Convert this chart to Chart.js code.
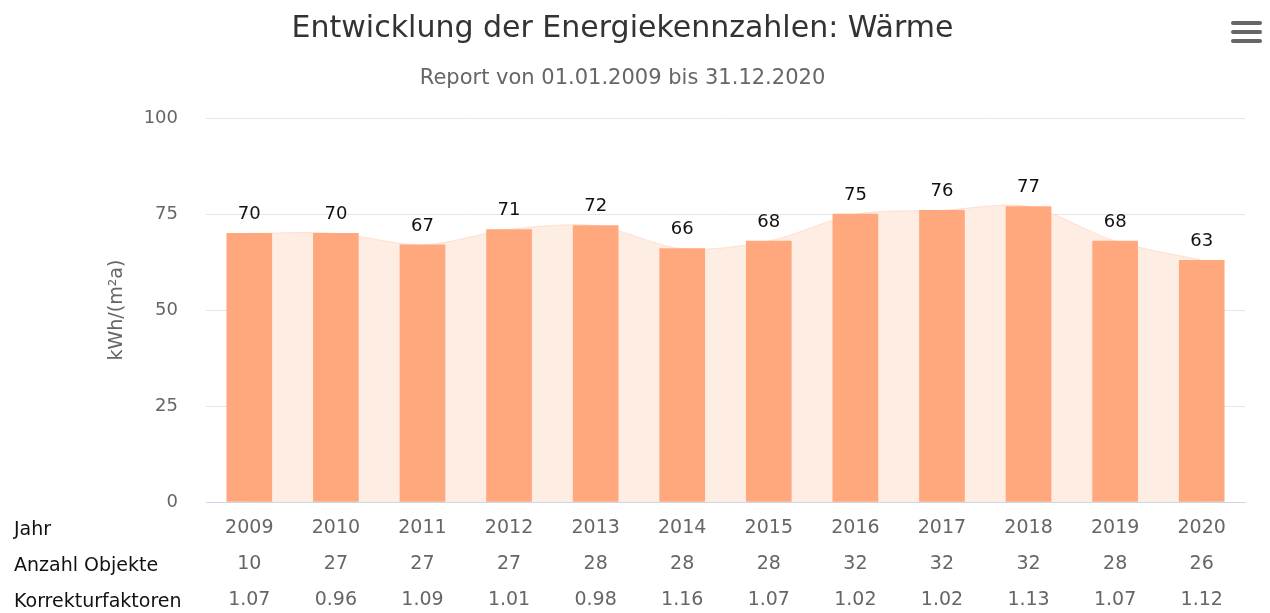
<!DOCTYPE html>
<html>
<head>
<meta charset="utf-8">
<script src="https://cdn.jsdelivr.net/npm/chart.js@4/dist/chart.umd.min.js"></script>
<style>
  html, body { margin: 0; padding: 0; background: #fff; }
  #wrap { width: 1270px; height: 613px; }
</style>
</head>
<body>
<div id="wrap"><canvas id="myChart" width="1270" height="613"></canvas></div>
<script>
var years = ['2009', '2010', '2011', '2012', '2013', '2014', '2015', '2016', '2017', '2018', '2019', '2020'];
var objekte = ['10', '27', '27', '27', '28', '28', '28', '32', '32', '32', '28', '26'];
var faktoren = ['1.07', '0.96', '1.09', '1.01', '0.98', '1.16', '1.07', '1.02', '1.02', '1.13', '1.07', '1.12'];
var werte = [70, 70, 67, 71, 72, 66, 68, 75, 76, 77, 68, 63];
var rowNames = ['Jahr', 'Anzahl Objekte', 'Korrekturfaktoren'];

var FONT = "'DejaVu Sans', sans-serif";
var LINE_H = 36;

var labels = years.map(function (y, i) { return [y, objekte[i], faktoren[i]]; });

var extras = {
    id: 'extras',
    afterDatasetsDraw: function (chart) {
        var c = chart.ctx;
        var meta = chart.getDatasetMeta(1);
        c.save();
        c.font = '18px ' + FONT;
        c.fillStyle = '#111';
        c.textAlign = 'center';
        c.textBaseline = 'middle';
        meta.data.forEach(function (bar, i) {
            c.fillText(String(werte[i]), bar.x, bar.y - 19);
        });
        c.restore();
    },
    afterDraw: function (chart) {
        var c = chart.ctx;
        var xs = chart.scales.x;
        var area = chart.chartArea;
        c.save();
        // row names on the left
        c.font = '19px ' + FONT;
        c.fillStyle = '#111';
        c.textAlign = 'left';
        c.textBaseline = 'middle';
        rowNames.forEach(function (n, i) {
            c.fillText(n, 14, xs.top + 28 + LINE_H * i);
        });
        // y axis title
        c.translate(117, (area.top + area.bottom) / 2);
        c.rotate(-Math.PI / 2);
        c.textAlign = 'center';
        c.fillStyle = '#666';
        c.font = '19px ' + FONT;
        c.fillText('kWh/(m²a)', 0, 0);
        c.restore();
        // menu icon
        c.save();
        c.strokeStyle = '#666';
        c.lineWidth = 4;
        c.lineCap = 'round';
        [23, 32, 41].forEach(function (y) {
            c.beginPath();
            c.moveTo(1233, y);
            c.lineTo(1260, y);
            c.stroke();
        });
        c.restore();
    }
};

var ctx = document.getElementById('myChart').getContext('2d');
var myChart = new Chart(ctx, {
    data: {
        labels: labels,
        datasets: [{
            type: 'line',
            label: 'Verlauf',
            data: werte,
            order: 2,
            fill: 'origin',
            tension: 0.3,
            pointRadius: 0,
            borderWidth: 1,
            borderColor: 'rgba(255, 190, 160, 0.4)',
            backgroundColor: 'rgba(254, 237, 226, 1)'
        }, {
            type: 'bar',
            label: 'Wärme',
            data: werte,
            order: 1,
            backgroundColor: '#ffa77d',
            barThickness: 45
        }]
    },
    options: {
        responsive: false,
        animation: false,
        layout: { padding: { left: 0, right: 25, top: 0, bottom: 0 } },
        plugins: {
            legend: { display: false },
            tooltip: { enabled: false },
            title: {
                display: true,
                text: 'Entwicklung der Energiekennzahlen: Wärme',
                color: '#333',
                font: { family: FONT, size: 30, weight: 'normal' },
                padding: { top: 11, bottom: 0 }
            },
            subtitle: {
                display: true,
                text: 'Report von 01.01.2009 bis 31.12.2020',
                color: '#666',
                font: { family: FONT, size: 21, weight: 'normal' },
                padding: { top: 19, bottom: 27 }
            }
        },
        scales: {
            x: {
                grid: { display: false },
                border: { color: '#ccd6eb' },
                afterFit: function (s) { s.height = 111; },
                ticks: {
                    color: '#666',
                    font: { family: FONT, size: 19, lineHeight: LINE_H / 19 },
                    padding: 0,
                    maxRotation: 0,
                    autoSkip: false
                }
            },
            y: {
                min: 0,
                max: 100,
                afterFit: function (s) { s.width = 206; },
                ticks: {
                    stepSize: 25,
                    color: '#666',
                    font: { family: FONT, size: 18 },
                    padding: 28
                },
                grid: { color: '#e6e6e6', drawTicks: false },
                border: { display: false }
            }
        }
    },
    plugins: [extras]
});
</script>
</body>
</html>
